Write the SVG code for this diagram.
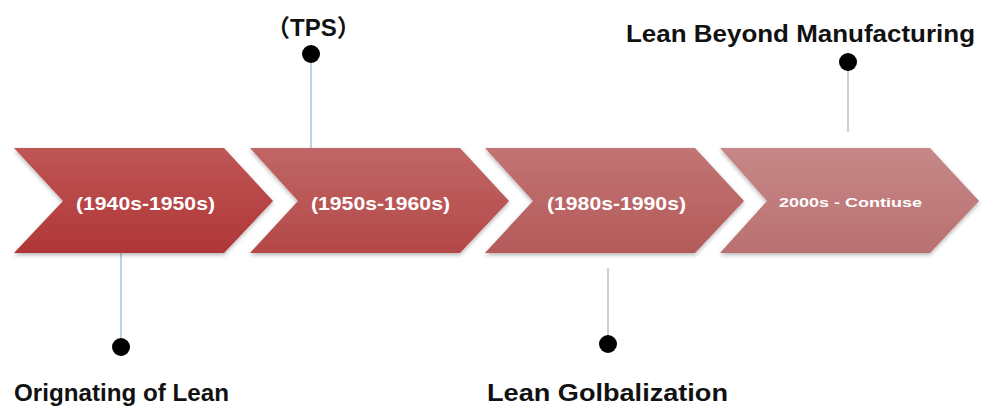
<svg xmlns="http://www.w3.org/2000/svg" width="993" height="410" viewBox="0 0 993 410">
<defs>
<linearGradient id="g1" x1="0" y1="0" x2="0" y2="1"><stop offset="0" stop-color="#bf5656"/><stop offset="1" stop-color="#b03636"/></linearGradient>
<linearGradient id="g2" x1="0" y1="0" x2="0" y2="1"><stop offset="0" stop-color="#c06666"/><stop offset="1" stop-color="#b44848"/></linearGradient>
<linearGradient id="g3" x1="0" y1="0" x2="0" y2="1"><stop offset="0" stop-color="#c27474"/><stop offset="1" stop-color="#b45a5a"/></linearGradient>
<linearGradient id="g4" x1="0" y1="0" x2="0" y2="1"><stop offset="0" stop-color="#c68888"/><stop offset="1" stop-color="#ba7070"/></linearGradient>
<filter id="sh" x="-10%" y="-10%" width="120%" height="130%"><feGaussianBlur in="SourceAlpha" stdDeviation="2"/><feOffset dy="2"/><feComponentTransfer><feFuncA type="linear" slope="0.3"/></feComponentTransfer><feMerge><feMergeNode/><feMergeNode in="SourceGraphic"/></feMerge></filter>
</defs>
<style>
.lab{font-family:"Liberation Sans",Arial,sans-serif;font-weight:bold;fill:#fff}
.cap{font-family:"Liberation Sans",Arial,"Noto Sans CJK SC",sans-serif;font-weight:bold;fill:#111;font-size:24px}
.ln{stroke:#a9c6d8;stroke-width:1.5;fill:none}
.dot{fill:#000}
</style>
<rect width="993" height="410" fill="#fff"/>
<g id="connectors">
<line class="ln" x1="121" y1="253" x2="121" y2="345"/>
<line class="ln" x1="311" y1="60" x2="311" y2="150"/>
<line class="ln" x1="608" y1="268" x2="608" y2="340"/>
<line class="ln" x1="848" y1="66" x2="848" y2="132"/>
</g>
<g id="step1">
<polygon points="14,148 224,148 273,201 224,253 14,253 63,201" fill="url(#g1)" filter="url(#sh)"/>
<text class="lab" x="76" y="210" font-size="18" textLength="139" lengthAdjust="spacingAndGlyphs">(1940s-1950s)</text>
</g>
<g id="step2">
<polygon points="250,148 460,148 509,201 460,253 250,253 298,201" fill="url(#g2)" filter="url(#sh)"/>
<text class="lab" x="311" y="210" font-size="18" textLength="139" lengthAdjust="spacingAndGlyphs">(1950s-1960s)</text>
</g>
<g id="step3">
<polygon points="485,148 695,148 744,201 695,253 485,253 533,201" fill="url(#g3)" filter="url(#sh)"/>
<text class="lab" x="547" y="210" font-size="18" textLength="139" lengthAdjust="spacingAndGlyphs">(1980s-1990s)</text>
</g>
<g id="step4">
<polygon points="720,148 930,148 979,201 930,253 720,253 767,201" fill="url(#g4)" filter="url(#sh)"/>
<text class="lab" x="779" y="207" font-size="13" textLength="143" lengthAdjust="spacingAndGlyphs">2000s - Contiuse</text>
</g>
<g id="origin">
<circle class="dot" cx="121" cy="347" r="9"/>
<text class="cap" x="14" y="401" textLength="215" lengthAdjust="spacingAndGlyphs">Orignating of Lean</text>
</g>
<g id="tps">
<circle class="dot" cx="311" cy="54" r="9"/>
<text class="cap" x="266" y="36" font-size="25">（TPS）</text>
</g>
<g id="global">
<circle class="dot" cx="608" cy="344" r="9"/>
<text class="cap" x="487" y="401" textLength="241" lengthAdjust="spacingAndGlyphs">Lean Golbalization</text>
</g>
<g id="beyond">
<circle class="dot" cx="848" cy="62" r="9"/>
<text class="cap" x="626" y="42" textLength="349" lengthAdjust="spacingAndGlyphs">Lean Beyond Manufacturing</text>
</g>
</svg>
